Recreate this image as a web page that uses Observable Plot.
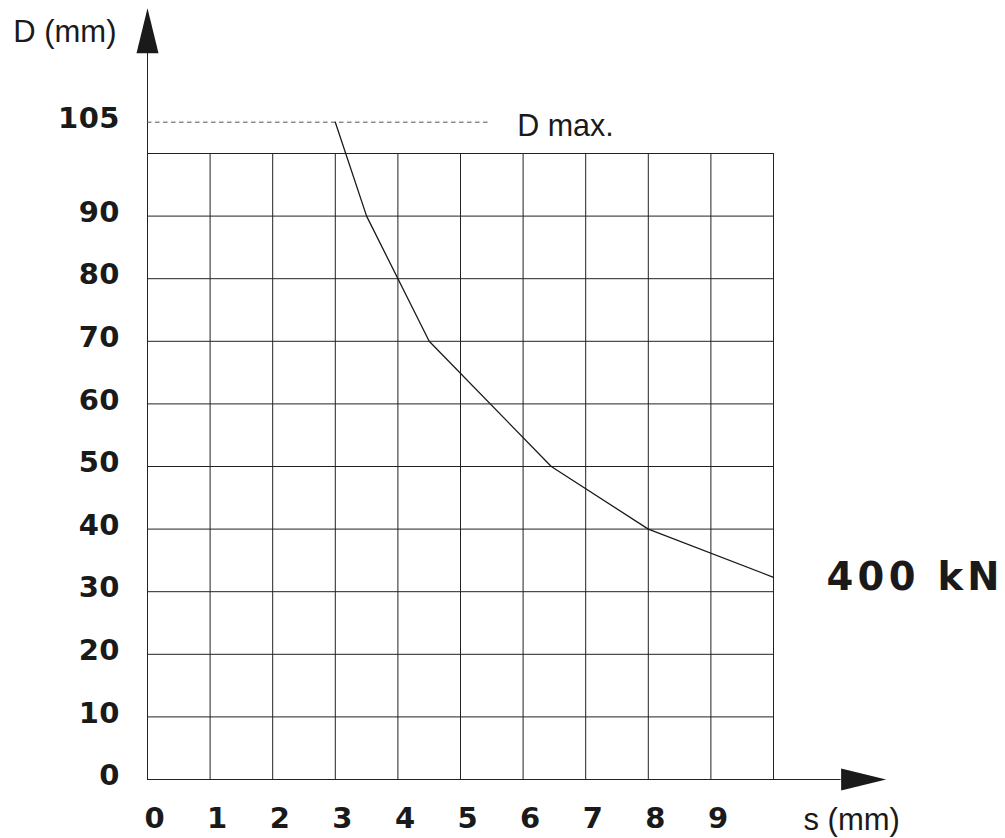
<!DOCTYPE html>
<html>
<head>
<meta charset="utf-8">
<script src="https://cdn.jsdelivr.net/npm/d3@7"></script>
<script src="https://cdn.jsdelivr.net/npm/@observablehq/plot@0.6"></script>
<style>
  html, body { margin: 0; padding: 0; background: #fff; }
  #chart svg { display: block; }
  .tick text { font-family: 'DejaVu Sans', sans-serif; letter-spacing: 0.5px; }
  .force text { font-family: 'DejaVu Sans', sans-serif; letter-spacing: 4.3px; }
</style>
</head>
<body>
<div id="chart"></div>
<script>
// ---- data ----
const sValues = [3, 3.5, 4.5, 6.45, 8, 10];        // s (mm)
const dValues = [105, 90, 70, 50, 40, 32.3];       // D (mm)
const xTicks = [0, 1, 2, 3, 4, 5, 6, 7, 8, 9];
const yTicks = [0, 10, 20, 30, 40, 50, 60, 70, 80, 90, 105];
const xGrid = [1, 2, 3, 4, 5, 6, 7, 8, 9, 10];
const yGrid = [10, 20, 30, 40, 50, 60, 70, 80, 90, 100];
const dMax = 105;
const dMaxLineEnd = 5.45;
const xAxisEnd = 11.08;
const yAxisEnd = 116;
const forceLabel = "400 kN";

const curve = sValues.map((s, i) => ({s, d: dValues[i]}));
const last = curve[curve.length - 1];

const FONT = "'Liberation Sans', Arial, Helvetica, sans-serif";
const INK = "#1a1a1a";

const arrowUp = {
  draw(context) {
    context.moveTo(0, -45);
    context.lineTo(11, 0);
    context.lineTo(-11, 0);
    context.closePath();
  }
};

const chart = Plot.plot({
  width: 1005,
  height: 838,
  marginLeft: 147,
  marginRight: 232,
  marginTop: 153,
  marginBottom: 59,
  style: {fontFamily: FONT, background: "#fff", color: INK},
  x: {domain: [0, 10], axis: null},
  y: {domain: [0, 100], axis: null},
  marks: [
    // grid
    Plot.ruleX(xGrid, {x: d => d, y1: 0, y2: 100, stroke: "#222", strokeWidth: 1}),
    Plot.ruleY(yGrid, {y: d => d, x1: 0, x2: 10, stroke: "#222", strokeWidth: 1}),
    // axes lines
    Plot.ruleX([0], {x: d => d, y1: 0, y2: yAxisEnd, stroke: "#222", strokeWidth: 1}),
    Plot.ruleY([0], {y: d => d, x1: 0, x2: xAxisEnd, stroke: "#222", strokeWidth: 1}),
    // arrow heads
    Plot.dot([{x: 0, y: yAxisEnd, r: 0}, {x: xAxisEnd, y: 0, r: 90}], {
      x: "x", y: "y", rotate: "r", symbol: arrowUp, fill: INK, stroke: "none", r: 10
    }),
    // D max dashed line
    Plot.ruleY([dMax], {y: d => d, x1: 0, x2: dMaxLineEnd, stroke: "#555", strokeWidth: 1, strokeDasharray: "4.5,3.5"}),
    // curve
    Plot.line(curve, {x: "s", y: "d", stroke: INK, strokeWidth: 1.3}),
    // tick labels
    Plot.text(yTicks, {
      x: () => 0, y: d => d, text: d => String(d),
      textAnchor: "end", lineAnchor: "middle", dx: -27.5, dy: -3.5,
      fontSize: 29, fontWeight: "bold", fill: INK, className: "tick"
    }),
    Plot.text(xTicks, {
      x: d => d, y: () => 0, text: d => String(d),
      textAnchor: "start", lineAnchor: "middle", dx: -3, dy: 39.5,
      fontSize: 29, fontWeight: "bold", fill: INK, className: "tick"
    }),
    // axis titles
    Plot.text(["D (mm)"], {
      frameAnchor: "top-left", textAnchor: "start", lineAnchor: "bottom",
      dx: 12.7 - 147, dy: 41.5 - 153, fontSize: 31, fill: INK
    }),
    Plot.text(["s (mm)"], {
      x: () => 10, y: () => 0, textAnchor: "start", lineAnchor: "middle",
      dx: 30, dy: 41, fontSize: 31, fill: INK
    }),
    Plot.text(["D max."], {
      x: () => dMaxLineEnd, y: () => dMax, textAnchor: "start", lineAnchor: "middle",
      dx: 28.5, dy: 4, fontSize: 30.5, fill: INK
    }),
    Plot.text([forceLabel], {
      x: () => last.s, y: () => last.d, textAnchor: "start", lineAnchor: "middle",
      dx: 53, dy: 0.5, fontSize: 38.5, fontWeight: "bold", fill: INK, className: "force"
    })
  ]
});

document.getElementById("chart").appendChild(chart);
</script>
</body>
</html>
